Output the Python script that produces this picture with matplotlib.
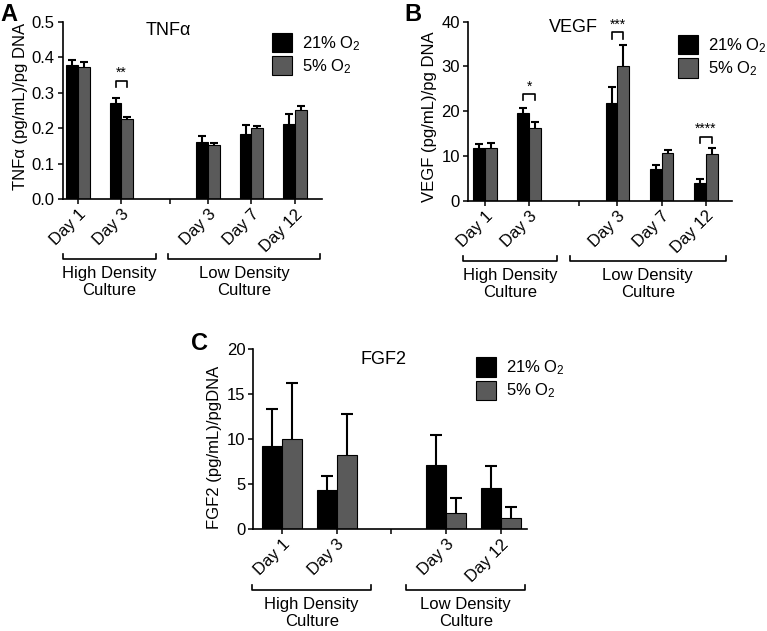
import numpy as np
import matplotlib
matplotlib.use('Agg')
import matplotlib.pyplot as plt
import matplotlib.transforms as mtransforms
from matplotlib.patches import Patch

plt.rcParams['font.family'] = ['Liberation Sans', 'DejaVu Sans']
plt.rcParams['mathtext.fontset'] = 'custom'
plt.rcParams['mathtext.rm'] = 'Liberation Sans'
plt.rcParams['mathtext.it'] = 'Liberation Sans:italic'
plt.rcParams['font.size'] = 12

# ---- data ----
groups = ['High Density\nCulture', 'Low Density\nCulture']
series = ['21% O$_2$', '5% O$_2$']
colors = ['#000000', '#5a5a5a']

tnf_labels = ['Day 1', 'Day 3', 'Day 3', 'Day 7', 'Day 12']
tnf_21 = [0.380, 0.272, 0.163, 0.184, 0.212]
tnf_21_err = [0.012, 0.015, 0.017, 0.027, 0.028]
tnf_5 = [0.372, 0.227, 0.153, 0.202, 0.251]
tnf_5_err = [0.016, 0.006, 0.005, 0.004, 0.013]
# (category index, bracket height, stars)
tnf_sig = [(1, 0.335, '**')]

vegf_labels = ['Day 1', 'Day 3', 'Day 3', 'Day 7', 'Day 12']
vegf_21 = [11.7, 19.7, 21.9, 7.15, 4.0]
vegf_21_err = [0.9, 1.0, 3.4, 0.75, 0.85]
vegf_5 = [11.85, 16.2, 30.1, 10.6, 10.35]
vegf_5_err = [1.05, 1.5, 4.8, 0.7, 1.5]
vegf_sig = [(1, 23.8, '*'), (2, 37.6, '***'), (4, 14.3, '****')]

fgf_labels = ['Day 1', 'Day 3', 'Day 3', 'Day 12']
fgf_21 = [9.28, 4.38, 7.16, 4.6]
fgf_21_err = [4.08, 1.48, 3.3, 2.38]
fgf_5 = [10.06, 8.2, 1.74, 1.19]
fgf_5_err = [6.23, 4.56, 1.75, 1.22]
fgf_sig = []


def panel(ax, labels, n_high, v21, e21, v5, e5, sig, width, capsize,
          ylim, yticks, yfmt, ylabel, title, title_xy, leg_xy, xlim,
          gap_tick, bracket_x, ylabel_xy, letter, letter_xy):
    fig = ax.figure
    n = len(labels)
    x = np.array([i if i < n_high else i + 1 for i in range(n)], dtype=float)
    for vals, errs, c, off, lab in [(v21, e21, colors[0], -width / 2, series[0]),
                                    (v5, e5, colors[1], width / 2, series[1])]:
        vals = np.array(vals)
        ax.bar(x + off, vals, width, color=c, edgecolor='black', linewidth=0.8,
               label=lab, zorder=2)
        _, caps, _ = ax.errorbar(x + off, vals, yerr=[np.zeros(n), errs], fmt='none',
                                 ecolor='black', elinewidth=1.5, capsize=capsize,
                                 capthick=1.5, zorder=3)
        for cl in caps:
            if np.allclose(cl.get_ydata(), vals):
                cl.set_visible(False)

    ax.set_xlim(*xlim)
    ax.set_ylim(*ylim)
    ax.set_yticks(yticks)
    ax.set_yticklabels([yfmt.format(t) for t in yticks])
    ticks = list(x) + [gap_tick]
    ax.set_xticks(ticks)
    ax.set_xticklabels(labels + [''], rotation=45, ha='right', va='top',
                       rotation_mode='anchor')
    shift = mtransforms.ScaledTranslation(0.07, -0.09, fig.dpi_scale_trans)
    for t in ax.get_xticklabels():
        t.set_transform(t.get_transform() + shift)
    ax.spines['top'].set_visible(False)
    ax.spines['right'].set_visible(False)
    for s in ('left', 'bottom'):
        ax.spines[s].set_linewidth(1.2)
    ax.tick_params(direction='out', length=3.5, width=1.1, labelsize=12, pad=2)
    ax.set_ylabel(ylabel, fontsize=12)
    ax.yaxis.set_label_coords(*ylabel_xy)
    ax.text(*title_xy, title, transform=ax.transAxes, ha='center', va='center',
            fontsize=13)

    # significance brackets
    drop = 0.034 * ylim[1]
    for i, y, s in sig:
        xx = x[i]
        ax.plot([xx - width / 2, xx - width / 2, xx + width / 2, xx + width / 2],
                [y - drop, y, y, y - drop], color='black', lw=1.2, zorder=4)
        ax.text(xx, y + 0.005 * ylim[1], s, ha='center', va='bottom', fontsize=10)

    # group brackets under the axis
    tr = ax.get_xaxis_transform()
    yb = -0.337
    for (x0, x1), g in zip(bracket_x, groups):
        ax.plot([x0, x0, x1, x1], [yb + 0.026, yb, yb, yb + 0.026], color='black',
                lw=1.2, transform=tr, clip_on=False)
        ax.text((x0 + x1) / 2, yb - 0.04, g, transform=tr, ha='center', va='top',
                fontsize=12, linespacing=1.15)

    handles = [Patch(facecolor=colors[0], edgecolor='black', linewidth=0.8),
               Patch(facecolor=colors[1], edgecolor='black', linewidth=0.8)]
    ax.legend(handles, series, loc='upper left', bbox_to_anchor=leg_xy, frameon=False,
              handlelength=1.2, handleheight=1.4, labelspacing=0.2,
              handletextpad=0.6, borderpad=0, borderaxespad=0, fontsize=12)
    fig.text(*letter_xy, letter, fontsize=17, fontweight='bold',
             ha='left', va='top')


fig = plt.figure(figsize=(7.67, 6.31), dpi=100)
axA = fig.add_axes([0.0815, 0.6841, 0.3379, 0.281])
axB = fig.add_axes([0.6098, 0.6819, 0.345, 0.2837])
axC = fig.add_axes([0.3302, 0.1616, 0.3568, 0.2848])

panel(axA, tnf_labels, 2, tnf_21, tnf_21_err, tnf_5, tnf_5_err, tnf_sig,
      0.27, 3, (0, 0.5), np.arange(0, 0.51, 0.1), '{:.1f}',
      'TNF\u03b1 (pg/mL)/pg DNA', 'TNF\u03b1', (0.41, 0.955), (0.81, 0.94),
      (-0.36, 5.62), 2.13, [(-0.35, 1.79), (2.07, 5.58)], (-0.133, 0.526),
      'A', (0.0, 0.995))
panel(axB, vegf_labels, 2, vegf_21, vegf_21_err, vegf_5, vegf_5_err, vegf_sig,
      0.265, 3, (0, 40), np.arange(0, 41, 10), '{:.0f}',
      'VEGF (pg/mL)/pg DNA', 'VEGF', (0.40, 0.965), (0.795, 0.925),
      (-0.39, 5.60), 2.13, [(-0.50, 1.63), (1.92, 5.45)], (-0.116, 0.47),
      'B', (0.527, 0.995))
panel(axC, fgf_labels, 2, fgf_21, fgf_21_err, fgf_5, fgf_5_err, fgf_sig,
      0.365, 4, (0, 20), np.arange(0, 21, 5), '{:.0f}',
      'FGF2 (pg/mL)/pgDNA', 'FGF2', (0.475, 0.944), (0.815, 0.955),
      (-0.52, 4.47), 2.0, [(-0.54, 1.63), (2.27, 4.44)], (-0.114, 0.456),
      'C', (0.249, 0.474))

fig.savefig('out.png', dpi=100)
